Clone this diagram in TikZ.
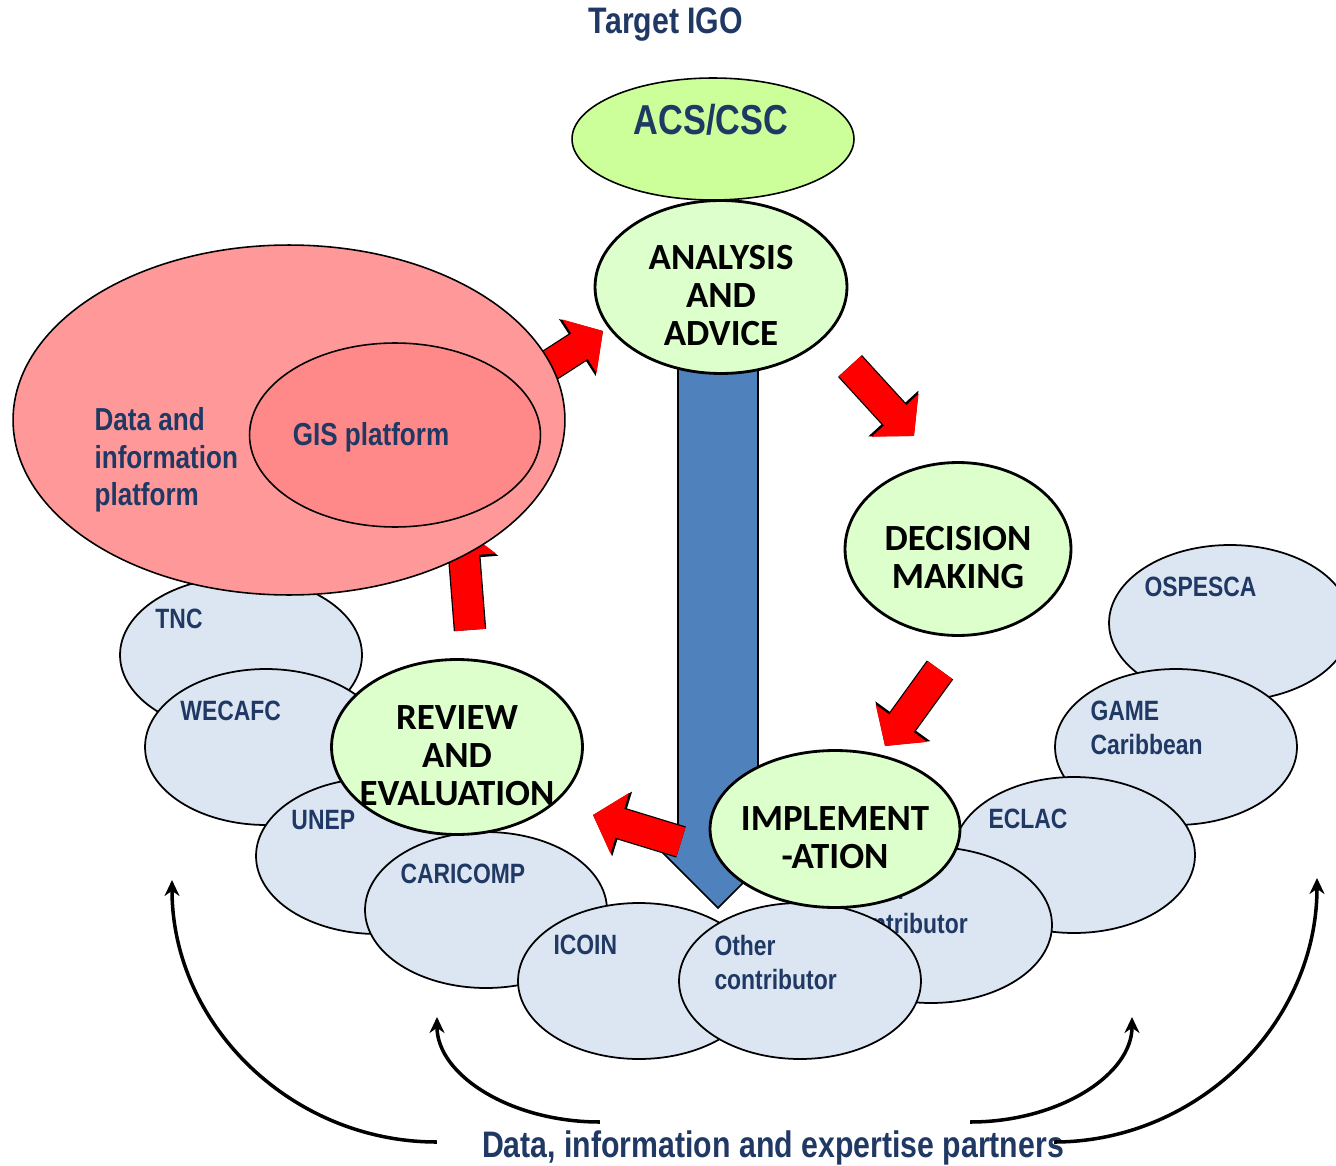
\documentclass[tikz,border=0pt]{standalone}
\usepackage{fontspec}
\newfontfamily\narrowsans[FakeStretch=0.82]{Liberation Sans}
\newfontfamily\stagefont{Carlito}
\usetikzlibrary{arrows.meta}
\usetikzlibrary{backgrounds}
\usetikzlibrary{shapes.geometric}
\definecolor{navy}{RGB}{31,56,100}
\definecolor{partnerblue}{RGB}{220,230,242}
\definecolor{stagegreen}{RGB}{221,255,204}
\definecolor{limegreen}{RGB}{204,255,153}
\definecolor{platformpink}{RGB}{255,153,153}
\definecolor{gispink}{RGB}{255,136,136}
\definecolor{barblue}{RGB}{79,129,189}
\newcommand{\stagelines}[1]{\makebox[0pt]{\raisebox{-0.44cm}[0pt][0pt]{\begin{tabular}{@{}c@{}}#1\end{tabular}}}}

\begin{document}
\begin{tikzpicture}[x=0.02cm, y=-0.02cm,
	partner/.style = {ellipse, draw, line width=1pt, fill=partnerblue, minimum width=4.84cm, minimum height=3.12cm, inner sep=0pt},
	ptext/.style = {anchor=north west, inner sep=0pt, align=left, text=navy, font=\narrowsans\bfseries\fontsize{15.9}{19.3}\selectfont},
	stage/.style = {ellipse, draw, line width=1.6pt, fill=stagegreen, inner sep=0pt, font=\stagefont\bfseries\fontsize{21}{21.5}\selectfont},
	redarrow/.style = {red, line width=0.6cm, -{Triangle[length=0.56cm,width=1.24cm]}, preaction={draw=black, line width=0.65cm, -{Triangle[length=0.61cm,width=1.32cm]}}},
	feed/.style = {line width=2pt, -{Stealth[length=0.32cm,width=0.3cm]}}]
				\useasboundingbox (0,0) rectangle (1336,1166);
				\node[partner] (ospesca) at (1230,623) {};
				\node[ptext] (ospesca-l) at ([shift={(36,-46)}]ospesca.west) {OSPESCA};
				\node[partner] (game) at (1176,747) {};
				\node[ptext] (game-l) at ([shift={(36,-46)}]game.west) {GAME\\Caribbean};
				\node[partner] (eclac) at (1074,855) {};
				\node[ptext] (eclac-l) at ([shift={(36,-46)}]eclac.west) {ECLAC};
				\node[partner] (contrib) at (931,925) {};
				\node[ptext] (contrib-l) at ([shift={(36,-46)}]contrib.west) {Other\\contributor};
				\node[partner] (tnc) at (241,655) {};
				\node[ptext] (tnc-l) at ([shift={(36,-46)}]tnc.west) {TNC};
				\node[partner] (wecafc) at (266,747) {};
				\node[ptext] (wecafc-l) at ([shift={(36,-46)}]wecafc.west) {WECAFC};
				\node[partner] (unep) at (377,856) {};
				\node[ptext] (unep-l) at ([shift={(36,-46)}]unep.west) {UNEP};
				\node[partner] (caricomp) at (486,910) {};
				\node[ptext] (caricomp-l) at ([shift={(36,-46)}]caricomp.west) {CARICOMP};
				\node[partner] (icoin) at (639,981) {};
				\node[ptext] (icoin-l) at ([shift={(36,-46)}]icoin.west) {ICOIN};
				\node[partner] (other) at (800,981) {};
				\node[ptext] (other-l) at ([shift={(36,-46)}]other.west) {Other\\contributor};

				\node[ellipse, draw, line width=0.9pt, fill=platformpink, minimum width=11.04cm, minimum height=7cm] (data) at (289,420) {};
				\node[anchor=north west, inner sep=0pt, align=left, text=navy, font=\narrowsans\bfseries\fontsize{18.1}{21.5}\selectfont] (data-l) at ([shift={(82,-13)}]data.west) {Data and\\information\\platform};
				\node[ellipse, draw, line width=0.9pt, fill=gispink, minimum width=5.82cm, minimum height=3.68cm] (gis) at (395,435) {};
				\node[inner sep=0pt, text=navy, font=\narrowsans\bfseries\fontsize{18.1}{21.5}\selectfont] (gis-l) at ([shift={(-24,2)}]gis.center) {GIS platform};

				\node[inner sep=0pt, text=navy, font=\narrowsans\bfseries\fontsize{21}{25}\selectfont] (target) at (666,25) {Target IGO};
				\node[ellipse, draw, line width=0.9pt, fill=limegreen, minimum width=5.64cm, minimum height=2.44cm] (acs) at (713,139) {};
				\node[inner sep=0pt, text=navy, font=\narrowsans\bfseries\fontsize{23.8}{28}\selectfont] (acs-l) at ([shift={(-2,-19)}]acs.center) {ACS/CSC};

				\node[stage, minimum width=5.04cm, minimum height=3.46cm] (analysis) at (721,287) {\stagelines{ANALYSIS\\AND\\ADVICE}};
				\node[stage, minimum width=4.52cm, minimum height=3.46cm] (decision) at (958,549) {\stagelines{DECISION\\MAKING}};
				\node[stage, minimum width=5cm, minimum height=3.14cm] (implementation) at (835,829) {\stagelines{IMPLEMENT\\-ATION}};
				\node[stage, minimum width=5.02cm, minimum height=3.5cm] (review) at (457,747) {\stagelines{REVIEW\\AND\\EVALUATION}};

				\node[inner sep=0pt, text=navy, font=\narrowsans\bfseries\fontsize{21}{25}\selectfont] (partners) at (773,1148) {Data, information and expertise partners};
				\coordinate (lo-end) at (172,880);
				\coordinate (li-end) at (437,1017);
				\coordinate (ri-end) at (1132,1017);
				\coordinate (ro-end) at (1317,878);
				\draw[feed] ([shift={(-45,-6)}]partners.west) .. controls +(-145,0) and +(0,145) .. (lo-end);
				\draw[feed] ([shift={(118,-26)}]partners.west) .. controls +(-89,0) and +(0,58) .. (li-end);
				\draw[feed] ([shift={(-94,-26)}]partners.east) .. controls +(88,0) and +(0,58) .. (ri-end);
				\draw[feed] ([shift={(-10,-6)}]partners.east) .. controls +(143,0) and +(0,146) .. (ro-end);

				\begin{scope}[on background layer]
					\draw[fill=barblue, line width=0.9pt] ([shift={(-43,0)}]analysis.center) -- ++(0,561) -- ++(-20,0) -- ++(60,60) -- ++(60,-60) -- ++(-20,0) -- ++(0,-561) -- cycle;
					\draw[redarrow] ([shift={(13,-117)}]review.center) -- ([shift={(173,108)}]data.center);
					\draw[redarrow] ([shift={(241,-42)}]data.center) -- ([shift={(-118,44)}]analysis.center);
				\end{scope}
				\draw[redarrow] ([shift={(129,79)}]analysis.center) -- ([shift={(-44,-113)}]decision.center);
				\draw[redarrow] ([shift={(-18,121)}]decision.center) -- ([shift={(50,-83)}]implementation.center);
				\draw[redarrow] ([shift={(-154,13)}]implementation.center) -- ([shift={(136,68)}]review.center);
			\end{tikzpicture}
\end{document}
